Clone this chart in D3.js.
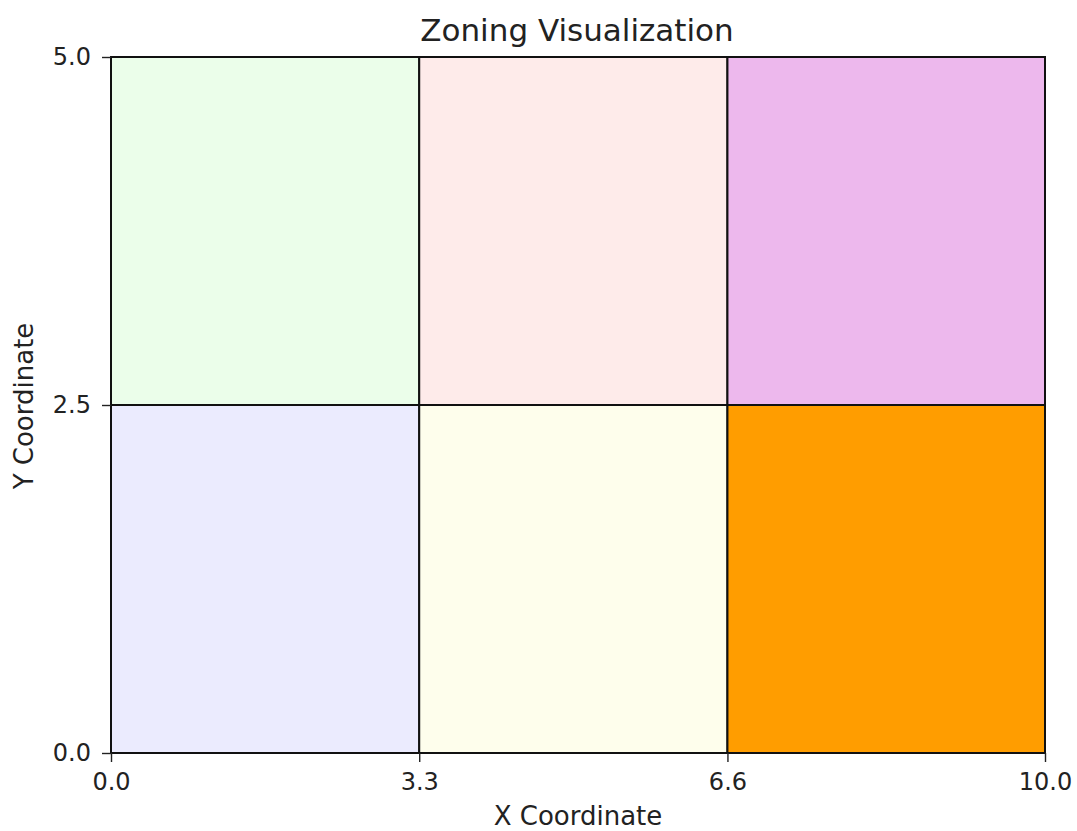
<!DOCTYPE html>
<html><head><meta charset="utf-8">
<script src="https://cdn.jsdelivr.net/npm/d3@7"></script>
<style>body{margin:0;background:#fff}svg{font-family:"DejaVu Sans",sans-serif}</style>
</head><body><svg id="c" width="1077" height="831"></svg>
<script>
const xEdges = [0, 3.3, 6.6, 10];
const yEdges = [0, 2.5, 5];
const xTicks = [0, 3.3, 6.6, 10];
const yTicks = [0, 2.5, 5];
const zoneX0 = [0, 3.3, 6.6, 0, 3.3, 6.6];
const zoneX1 = [3.3, 6.6, 10, 3.3, 6.6, 10];
const zoneY0 = [2.5, 2.5, 2.5, 0, 0, 0];
const zoneY1 = [5, 5, 5, 2.5, 2.5, 2.5];
const zoneColors = ["#ebfeea", "#feebea", "#edb8ed", "#ebebfe", "#fefeec", "#ff9d00"];

const svg = d3.select("#c");
const m = {l:111, r:1045, t:57, b:753};
const x = d3.scaleLinear().domain([0,10]).range([m.l, m.r]);
const y = d3.scaleLinear().domain([0,5]).range([m.b, m.t]);

svg.append("g").selectAll("rect").data(zoneColors).join("rect")
  .attr("x", (d,i)=>x(zoneX0[i]))
  .attr("y", (d,i)=>y(zoneY1[i]))
  .attr("width", (d,i)=>x(zoneX1[i])-x(zoneX0[i]))
  .attr("height", (d,i)=>y(zoneY0[i])-y(zoneY1[i]))
  .attr("fill", d=>d)
  .attr("stroke", "#111")
  .attr("stroke-width", 2);

const xa = svg.append("g").attr("transform", `translate(0,${m.b})`)
  .call(d3.axisBottom(x).tickValues(xTicks).tickFormat(d3.format(".1f")).tickSize(9).tickPadding(11));
const ya = svg.append("g").attr("transform", `translate(${m.l},0)`)
  .call(d3.axisLeft(y).tickValues(yTicks).tickFormat(d3.format(".1f")).tickSize(9).tickPadding(11));
[xa, ya].forEach(a => {
  a.select(".domain").remove();
  a.selectAll("line").attr("stroke", "#222").attr("stroke-width", 1.4);
  a.selectAll("text").attr("font-size", 24).attr("fill", "#222").attr("font-family", "DejaVu Sans");
});

svg.append("text").attr("x", 577).attr("y", 41).attr("text-anchor","middle")
  .attr("font-size", 31).attr("fill","#222").text("Zoning Visualization");
svg.append("text").attr("x", (m.l+m.r)/2).attr("y", 825).attr("text-anchor","middle")
  .attr("font-size", 26).attr("fill","#222").text("X Coordinate");
svg.append("text").attr("transform", `translate(33,406) rotate(-90)`).attr("text-anchor","middle")
  .attr("font-size", 26).attr("fill","#222").text("Y Coordinate");
</script></body></html>
